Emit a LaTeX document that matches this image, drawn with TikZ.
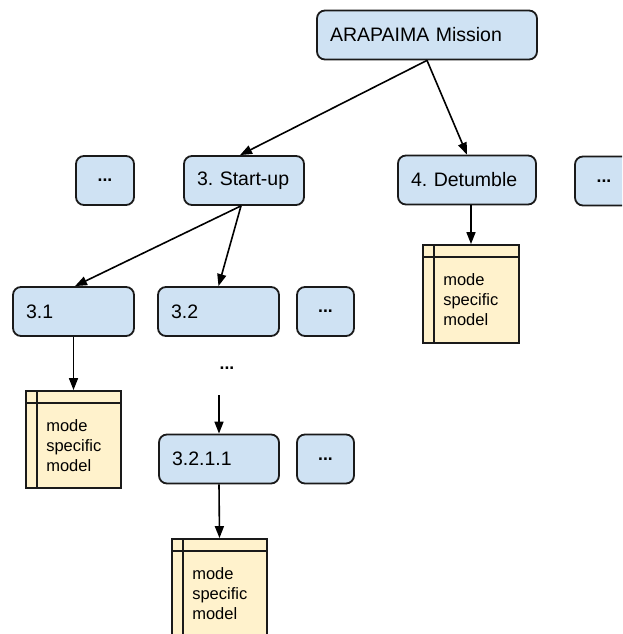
\documentclass[tikz,border=0pt]{standalone}
\usepackage{fontspec}
\setmainfont{Liberation Sans}
\usetikzlibrary{arrows.meta,calc}
\definecolor{boxblue}{HTML}{CFE2F3}
\definecolor{boxyellow}{HTML}{FFF2CC}
\definecolor{edge}{HTML}{1A1A1A}
\frenchspacing
\begin{document}
\begin{tikzpicture}[x=1pt,y=-1pt,
  blk/.style={draw=edge,line width=1.8pt,fill=boxblue,rounded corners=8pt,
    minimum height=49pt,inner sep=0pt,font=\fontsize{19.5}{22}\selectfont},
  lbl/.style={blk,text width=#1,align=left,minimum width=#1,
    execute at begin node={\hspace*{13pt}}},
  dots/.style={blk,minimum width=58pt,font=\fontsize{17.5}{20}\selectfont\bfseries},
  model/.style={draw=edge,line width=1.8pt,fill=boxyellow,minimum width=95pt,
    minimum height=97pt,inner sep=0pt},
  mtext/.style={font=\fontsize{16.5}{20}\selectfont,align=left,inner sep=0pt,anchor=west},
  arr/.style={-{Triangle[length=12pt,width=9pt]},line width=1.6pt,draw=black}]
\useasboundingbox (0,0) rectangle (622,634);
\clip (0,0) rectangle (622,634);

% nodes
\node[lbl=220pt] (top) at (427,35) {ARAPAIMA Mission};
\node[dots] (dl) at (105,180.5) {...};
\node[lbl=120pt] (su) at (244,180.5) {3. Start-up};
\node[lbl=138pt] (dt) at (467,180) {4. Detumble};
\node[dots] (dr) at (604,181) {...};

\node[lbl=121pt] (n31) at (73.5,311.5) {3.1};
\node[lbl=121pt] (n32) at (218.5,311.5) {3.2};
\node[dots,minimum width=57pt] (d32) at (325.5,311.5) {...};

\node[font=\fontsize{17.5}{20}\selectfont\bfseries,inner sep=0pt] (vd) at (227,368.5) {...};
\coordinate (vds) at (219,395);

\node[lbl=120pt] (n3211) at (219,459) {3.2.1.1};
\node[dots,minimum width=57pt] (d3211) at (325.5,459) {...};

% mode specific models
\foreach \n/\x/\y/\w/\h in {m4/471/294/96/98, m31/73.5/439.5/95/97, m3211/219.5/588/95/98}{
  \node[model,minimum width=\w pt,minimum height=\h pt] (\n) at (\x,\y) {};
  \draw[edge,line width=1.8pt] ($(\n.north west)+(0,12.5)$) -- ($(\n.north east)+(0,12.5)$);
  \draw[edge,line width=1.8pt] ($(\n.north west)+(12,0)$) -- ($(\n.south west)+(12,0)$);
  \node[mtext] (\n t) at ($(\n.west)+(21,6)$) {mode\\specific\\model};
}

% connectors
\draw[arr] (top.south) -- ([xshift=-4pt]su.north);
\draw[arr] (top.south) -- (dt.north);
\draw[arr] ([xshift=-3pt]su.south) -- ([xshift=1.5pt]n31.north);
\draw[arr] ([xshift=-3pt]su.south) -- (n32.north);
\draw[arr] (m4.north |- dt.south) -- (m4.north);
\draw[arr] (n31.south) -- (m31.north);
\draw[arr] (vds) -- (n3211.north);
\draw[arr] (n3211.south) -- (m3211.north);
\end{tikzpicture}
\end{document}
